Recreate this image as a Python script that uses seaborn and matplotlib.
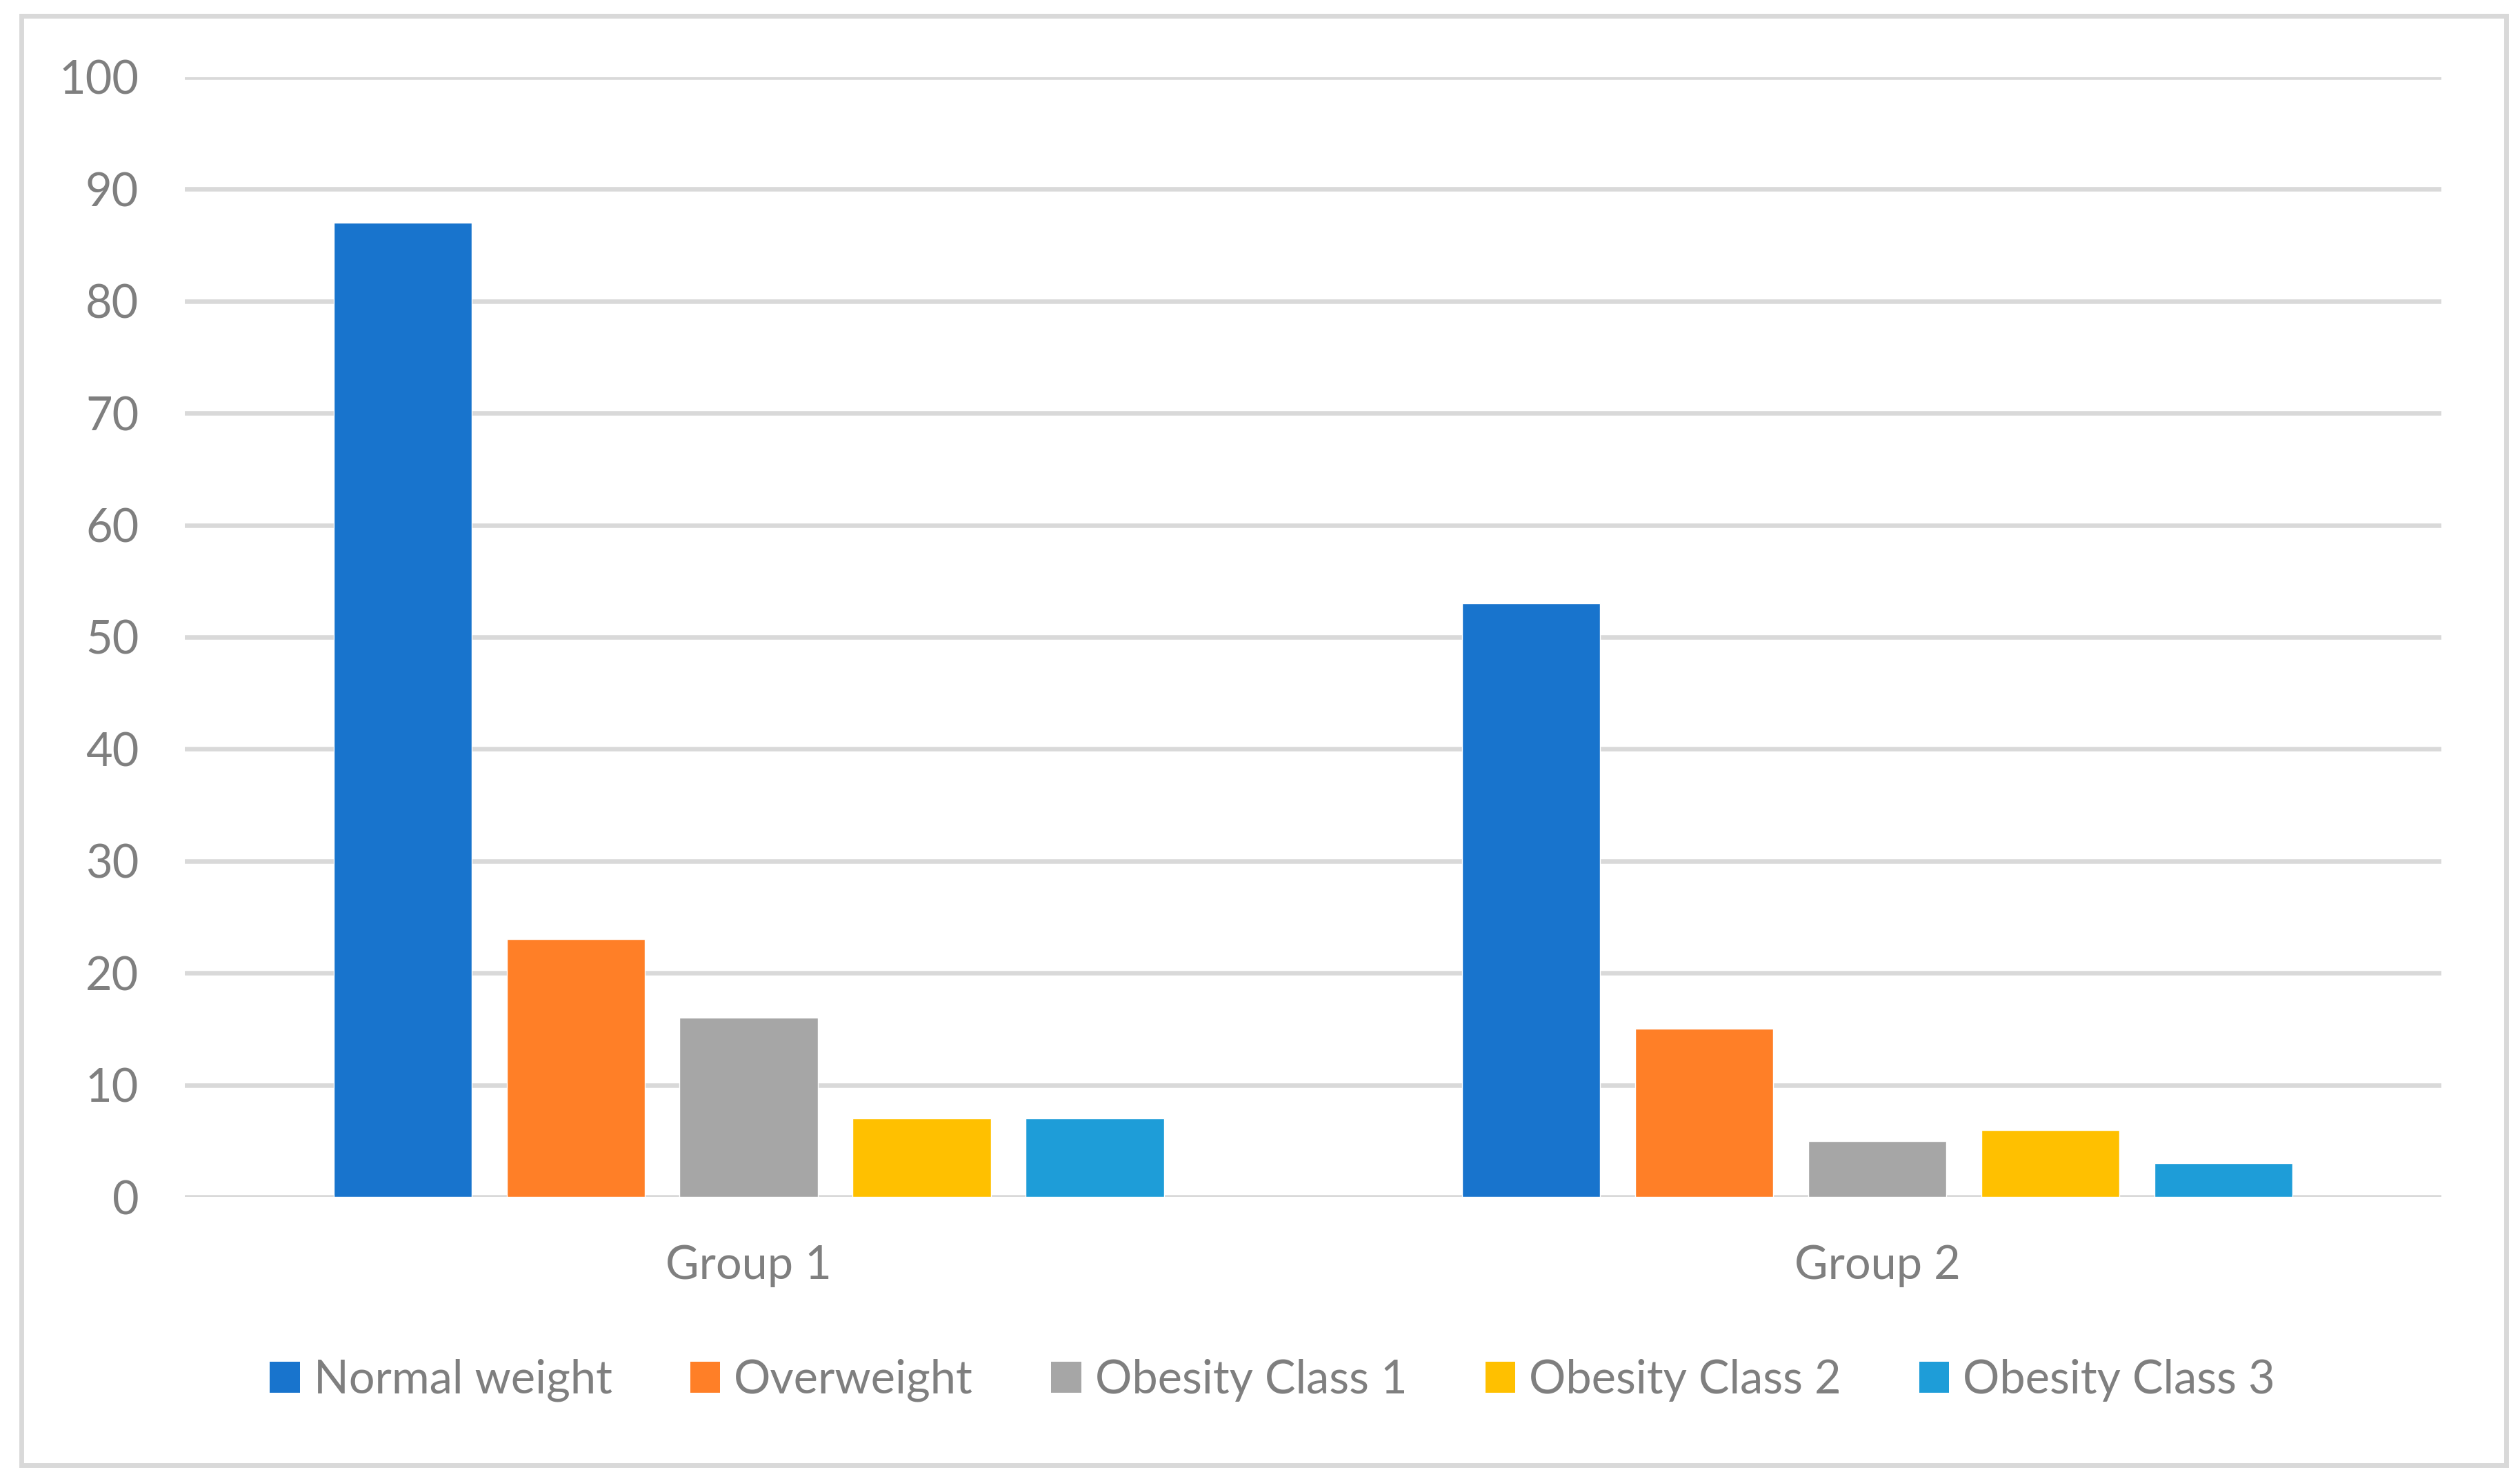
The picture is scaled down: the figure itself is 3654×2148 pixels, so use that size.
import matplotlib
matplotlib.use("Agg")
import matplotlib.pyplot as plt
import seaborn as sns
import pandas as pd
from matplotlib.patches import Rectangle, Patch

groups = ["Group 1", "Group 2"]
categories = ["Normal weight", "Overweight", "Obesity Class 1", "Obesity Class 2", "Obesity Class 3"]
group1_values = [87, 23, 16, 7, 7]
group2_values = [53, 15, 5, 6, 3]
colors = ["#1874CD", "#FF7F27", "#A6A6A6", "#FFC000", "#1E9DD8"]
yticks = [0, 10, 20, 30, 40, 50, 60, 70, 80, 90, 100]

rows = []
for g, vals in zip(groups, [group1_values, group2_values]):
    for c, v in zip(categories, vals):
        rows.append({"group": g, "category": c, "value": v})
df = pd.DataFrame(rows)

sns.set_theme(style="white")
plt.rcParams["font.family"] = ["Lato", "DejaVu Sans"]
TEXT = "#7F7F7F"
GRID = "#D9D9D9"

fig = plt.figure(figsize=(36.54, 21.48), dpi=100)
ax = fig.add_axes([0.0733, 0.1918, 0.8955, 0.7561])

sns.barplot(data=df, x="group", y="value", hue="category", order=groups,
            hue_order=categories, palette=colors, width=0.767, gap=0.2,
            saturation=1, legend=False, ax=ax, zorder=3)

ax.set_ylim(0, 100)
ax.set_xlim(-0.5, 1.5)
ax.set_yticks(yticks)
ax.set_yticklabels([str(t) for t in yticks])
ax.set_xlabel("")
ax.set_ylabel("")
for s in ax.spines.values():
    s.set_visible(False)
ax.grid(axis="y", color=GRID, linewidth=4.7, zorder=0)
ax.grid(axis="x", visible=False)
ax.set_axisbelow(True)
ax.tick_params(axis="y", length=0, pad=48, labelsize=48, labelcolor=TEXT)
ax.tick_params(axis="x", length=0, pad=50, labelsize=48, labelcolor=TEXT)

handles = [Patch(facecolor=c, edgecolor="none") for c in colors]
fig.legend(handles, categories, loc="center", bbox_to_anchor=(0.505, 0.068),
           ncol=5, frameon=False, fontsize=48, labelcolor=TEXT,
           handlelength=0.65, handleheight=0.65, handletextpad=0.3,
           columnspacing=1.7)

border = Rectangle((0.0085, 0.0105), 0.986, 0.979, transform=fig.transFigure,
                   fill=False, edgecolor=GRID, linewidth=5)
fig.patches.append(border)

fig.savefig("out.png", dpi=100, facecolor="white")
